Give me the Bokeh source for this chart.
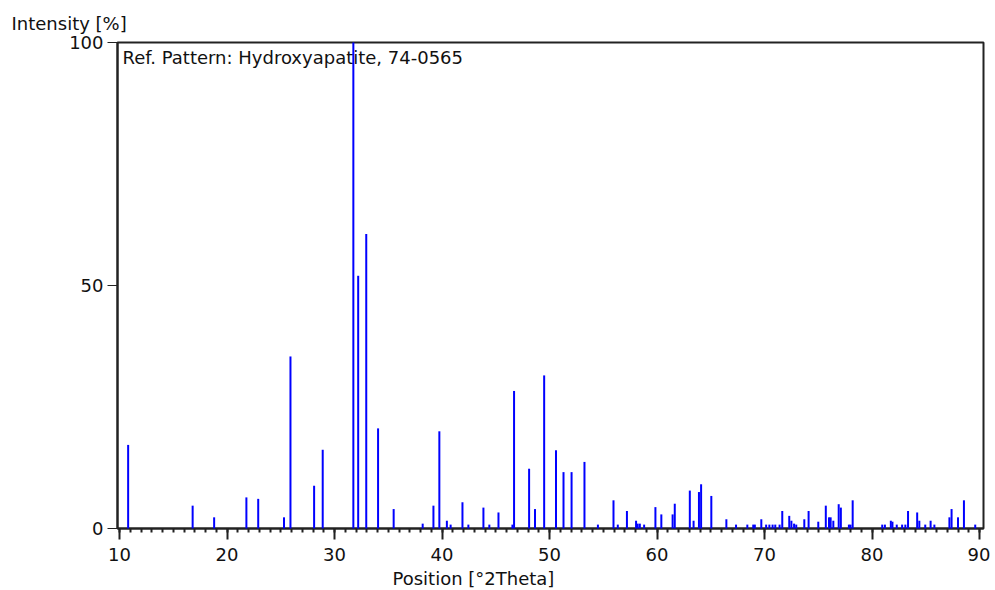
from bokeh.plotting import figure
from bokeh.models import Range1d, SingleIntervalTicker, FixedTicker, Label, Title, ColumnDataSource
from bokeh.embed import file_html
from bokeh.resources import INLINE

# Reference pattern: Hydroxyapatite 74-0565
positions = [10.8, 16.8, 18.8, 21.8, 22.9, 25.3, 25.9, 28.1, 28.9, 31.75,
             32.2, 32.95, 34.05, 35.5, 38.2, 39.2, 39.75, 40.45, 40.8, 41.9,
             42.45, 43.85, 44.4, 45.25, 46.55, 46.7, 48.1, 48.65, 49.5, 50.6,
             51.3, 52.05, 53.25, 54.5, 55.95, 56.35, 57.2, 58.05, 58.2, 58.4,
             58.8, 59.85, 60.4, 61.45, 61.65, 63.05, 63.4, 63.9, 64.1, 65.05,
             66.45, 67.35, 68.4, 68.95, 69.1, 69.7, 70.15, 70.45, 70.75, 71.0,
             71.4, 71.65, 72.3, 72.5, 72.75, 72.95, 73.7, 74.1, 75.0, 75.7,
             76.0, 76.15, 76.4, 76.9, 77.1, 77.85, 78.0, 78.2, 80.95, 81.2,
             81.75, 81.9, 82.3, 82.8, 83.1, 83.35, 84.2, 84.4, 84.95, 85.45,
             85.8, 87.2, 87.4, 88.0, 88.55, 89.6]
intensities = [17.2, 4.7, 2.3, 6.4, 6.1, 2.3, 35.4, 8.8, 16.2, 100.0,
               52.0, 60.6, 20.6, 4.0, 1.0, 4.7, 20.0, 1.6, 0.8, 5.4,
               0.8, 4.3, 0.8, 3.3, 0.8, 28.3, 12.3, 4.0, 31.5, 16.1,
               11.6, 11.6, 13.7, 0.8, 5.8, 0.8, 3.6, 1.6, 1.0, 1.0,
               0.8, 4.4, 2.9, 2.9, 5.1, 7.8, 1.6, 7.5, 9.1, 6.7,
               1.9, 0.8, 0.8, 0.8, 0.8, 1.9, 0.8, 0.8, 0.8, 0.8,
               0.8, 3.6, 2.6, 1.6, 1.0, 0.8, 1.9, 3.6, 1.4, 4.7,
               2.3, 2.3, 1.6, 5.0, 4.3, 0.8, 0.8, 5.8, 0.8, 0.8,
               1.6, 1.4, 0.8, 0.8, 0.8, 3.6, 3.3, 1.6, 0.8, 1.6,
               0.8, 2.3, 4.0, 2.3, 5.8, 0.8]
baseline = [0.0] * len(positions)

x_ticks_interval = 10
y_ticks = [0, 50, 100]

title_text = "Intensity [%]"
pattern_text = "Ref. Pattern: Hydroxyapatite, 74-0565"
x_label_text = "Position [°2Theta]"

FONT = "DejaVu Sans"
FS = "18px"
TXT = "#111111"

W, H = 990, 590
p = figure(width=W, height=H, output_backend="svg", toolbar_location=None,
           x_range=Range1d(9.81, 90.37), y_range=Range1d(0, 100),
           min_border_left=117, min_border_right=7, min_border_top=42, min_border_bottom=62)
p.background_fill_color = "white"
p.border_fill_color = "white"
p.grid.visible = False
p.outline_line_color = "#222222"
p.outline_line_width = 2

src = ColumnDataSource(dict(x=positions, y0=baseline, y1=intensities))
r = p.segment(x0="x", y0="y0", x1="x", y1="y1", source=src,
              line_color="#0000FF", line_width=2)
r.level = "overlay"

xa = p.xaxis[0]
xa.ticker = SingleIntervalTicker(interval=x_ticks_interval, num_minor_ticks=10)
xa.axis_line_color = "#222222"
xa.axis_line_width = 2
xa.major_tick_line_color = "#222222"
xa.major_tick_line_width = 2
xa.major_tick_out = 11
xa.major_tick_in = 0
xa.minor_tick_line_color = "#222222"
xa.minor_tick_line_width = 2
xa.minor_tick_out = 4
xa.minor_tick_in = 0
xa.major_label_text_font = FONT
xa.major_label_text_font_size = FS
xa.major_label_text_color = TXT
xa.major_label_standoff = 8

ya = p.yaxis[0]
ya.ticker = FixedTicker(ticks=y_ticks)
ya.axis_line_color = "#222222"
ya.axis_line_width = 2
ya.major_tick_line_color = "#222222"
ya.major_tick_line_width = 1
ya.major_tick_out = 10
ya.major_tick_in = 0
ya.minor_tick_line_color = None
ya.major_label_text_font = FONT
ya.major_label_text_font_size = FS
ya.major_label_text_color = TXT
ya.major_label_standoff = 4

p.add_layout(Title(text=title_text, align="left", offset=-106, standoff=17,
                   text_font=FONT, text_font_size=FS, text_color=TXT,
                   text_font_style="normal"), "above")
p.add_layout(Title(text=x_label_text, align="left", offset=275, standoff=4,
                   text_font=FONT, text_font_size=FS, text_color=TXT,
                   text_font_style="normal"), "below")

p.add_layout(Label(x=5, y=482, x_units="screen", y_units="screen", text=pattern_text,
                   text_font=FONT, text_font_size=FS, text_color=TXT,
                   text_baseline="top", text_align="left"))

open("out.html", "w").write(file_html(p, INLINE))
